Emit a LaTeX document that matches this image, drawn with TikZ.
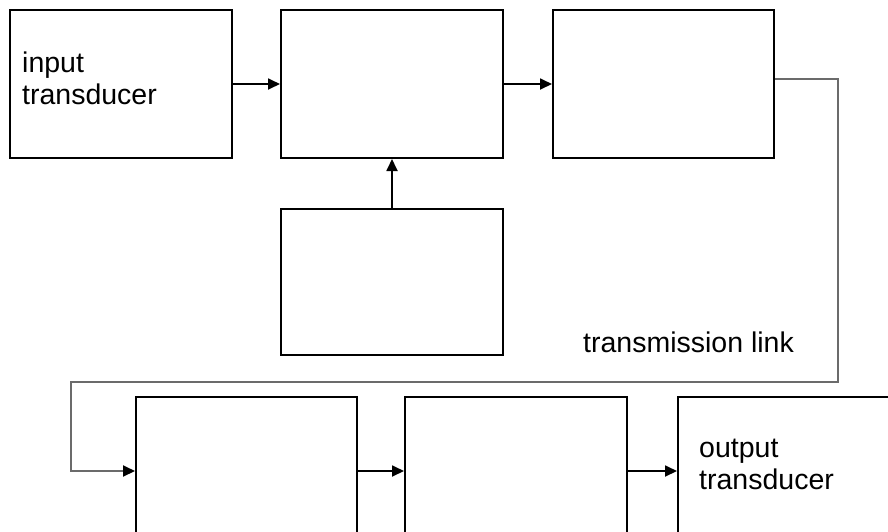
\documentclass[tikz,border=0pt]{standalone}
\usepackage{fontspec}
\setmainfont{Liberation Sans}
\usetikzlibrary{arrows.meta}
\begin{document}
\begin{tikzpicture}[x=1pt,y=-1pt,
  blk/.style={draw=black,line width=2pt,minimum width=222pt,minimum height=148pt,inner sep=0pt},
  lbl/.style={font=\fontsize{28.5}{32}\selectfont,align=left,inner sep=0pt,anchor=north west},
  conn/.style={line width=1.8pt,-{Triangle[length=12pt,width=11pt]}},
  link/.style={line width=2pt,draw=black!58,-{Triangle[length=12pt,width=11pt,color=black]}}]
\useasboundingbox (0,0) rectangle (888,531);
\clip (0,0) rectangle (888,531);
\fill[white] (0,0) rectangle (888,531);
% top row
\node[blk] (b1) at (121,84) {};
\node[blk] (b2) at (392,84) {};
\node[blk,minimum width=221pt] (b3) at (663.5,84) {};
\node[blk,minimum height=146pt] (b2s) at (392,282) {};
% bottom row
\node[blk,minimum width=221pt] (b4) at (246.5,471) {};
\node[blk] (b5) at (516,471) {};
\node[blk] (b6) at (789,471) {};
% texts
\node[lbl] (t1) at (22,52) {input\\transducer};
\node[lbl] (t6) at (699,439) {output\\transducer};
\node[font=\fontsize{28.5}{32}\selectfont,inner sep=0pt,anchor=base west] (tl) at (583,352) {transmission link};
% connectors
\draw[conn] (b1.east) -- (b2.west);
\draw[conn] (b2.east) -- (b3.west);
\draw[conn] (b2s.north) -- (b2.south);
\coordinate (l0) at (b3.east |- 0,79);
\coordinate (l1) at (838,79);
\coordinate (l2) at (838,382);
\coordinate (l3) at (71,382);
\coordinate (l4) at (71,471);
\draw[link] (l0) -- (l1) -- (l2) -- (l3) -- (l4) -- (b4.west);
\draw[conn] (b4.east) -- (b5.west);
\draw[conn] (b5.east) -- (b6.west);
\end{tikzpicture}
\end{document}
